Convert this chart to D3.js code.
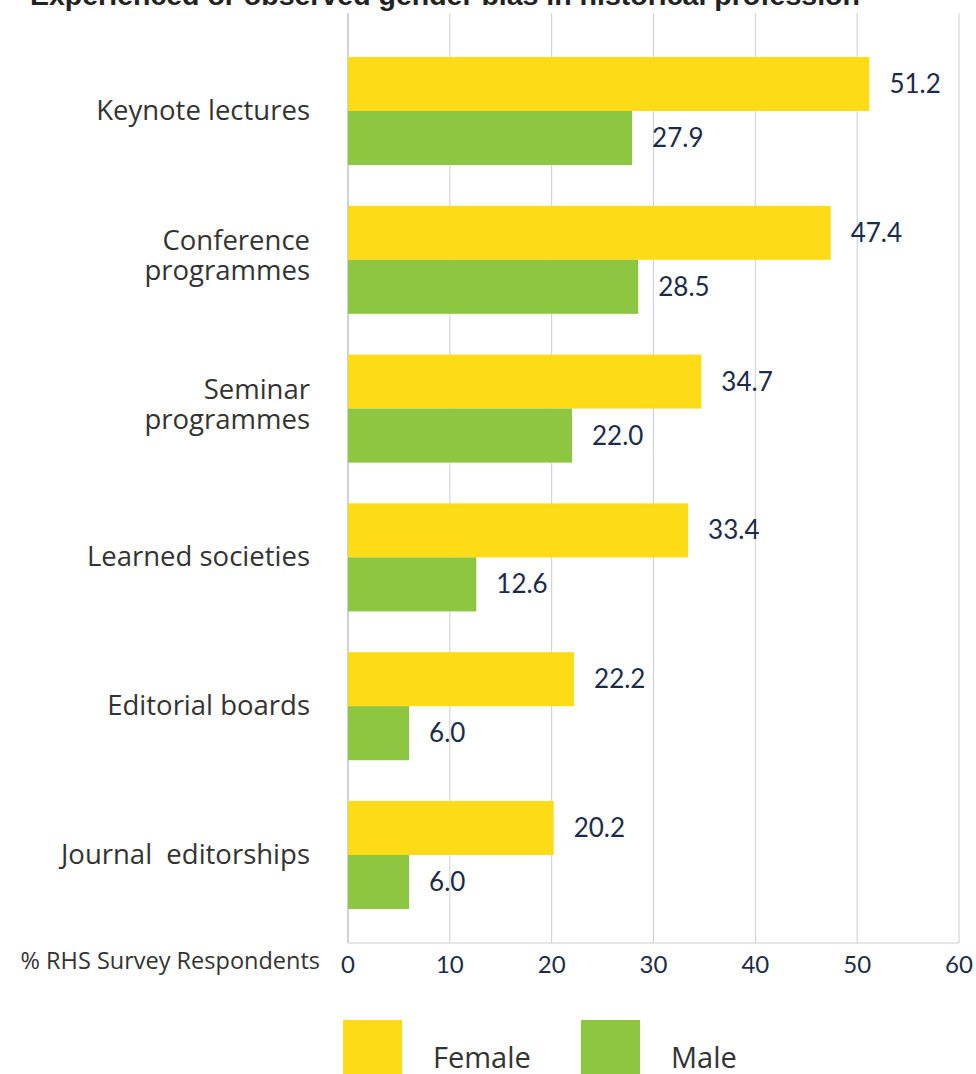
<!DOCTYPE html>
<html>
<head>
<meta charset="utf-8">
<script src="https://cdn.jsdelivr.net/npm/d3@7"></script>
<style>
  body { margin: 0; background: #fff; }
  svg { display: block; }
</style>
</head>
<body>
<div id="chart"></div>
<script>
var categories = ["Keynote lectures", "Conference\nprogrammes", "Seminar\nprogrammes", "Learned societies", "Editorial boards", "Journal  editorships"];
var series = ["Female", "Male"];
var female = [51.2, 47.4, 34.7, 33.4, 22.2, 20.2];
var male = [27.9, 28.5, 22.0, 12.6, 6.0, 6.0];
var ticks = [0, 10, 20, 30, 40, 50, 60];
var colors = ["#fddc17", "#8dc641"];

var W = 976, H = 1074;
var svg = d3.select("#chart").append("svg")
    .attr("width", W)
    .attr("height", H);

var x = d3.scaleLinear().domain([0, 60]).range([348, 959]);
var y = d3.scaleBand().domain(categories).range([36.6, 929.4]).paddingInner(0.274).paddingOuter(0.137);
var ySub = d3.scaleBand().domain(series).range([0, y.bandwidth()]);

var fontTxt = "'Open Sans', Lato, sans-serif";
var fontNum = "Lato, 'Open Sans', sans-serif";

// titre (coupé en haut)
svg.append("text")
    .attr("x", 30)
    .attr("y", 5)
    .text("Experienced or observed gender bias in historical profession")
    .attr("font-family", "'Liberation Sans', Arial, sans-serif")
    .attr("font-weight", "bold")
    .attr("font-size", "28.5px")
    .attr("fill", "#222");

// grille
svg.append("g").selectAll("line")
    .data(ticks)
    .join("line")
    .attr("x1", d => x(d))
    .attr("x2", d => x(d))
    .attr("y1", 13)
    .attr("y2", 943)
    .attr("stroke", d => d == 0 ? "#9aa3b5" : "#c9cdd6")
    .attr("stroke-width", 1);

svg.append("line")
    .attr("x1", x(0))
    .attr("x2", x(60))
    .attr("y1", 943)
    .attr("y2", 943)
    .attr("stroke", "#c9cdd6");

// barres
var rows = categories.map((c, i) => ({ cat: c, vals: [female[i], male[i]] }));
var grp = svg.append("g").selectAll("g")
    .data(rows)
    .join("g")
    .attr("transform", d => "translate(0," + y(d.cat) + ")");

grp.selectAll("rect")
    .data(d => d.vals.map((v, k) => ({ s: series[k], v: v, k: k })))
    .join("rect")
    .attr("x", x(0))
    .attr("y", d => ySub(d.s))
    .attr("width", d => x(d.v) - x(0))
    .attr("height", ySub.bandwidth())
    .attr("fill", d => colors[d.k]);

grp.selectAll("text.val")
    .data(d => d.vals.map((v, k) => ({ s: series[k], v: v, k: k })))
    .join("text")
    .attr("class", "val")
    .attr("x", d => x(d.v) + 20)
    .attr("y", d => ySub(d.s) + ySub.bandwidth() / 2 + 9)
    .text(d => d.v.toFixed(1))
    .attr("font-family", fontNum)
    .attr("font-size", "26px")
    .attr("fill", "#1c2b4a");

// libellés des catégories
categories.forEach(function (c) {
    var lines = c.split("\n");
    var cy = y(c) + y.bandwidth() / 2;
    var t = svg.append("text")
        .attr("text-anchor", "end")
        .style("white-space", "pre")
        .attr("font-family", fontTxt)
        .attr("font-size", "27.5px")
        .attr("fill", "#333");
    lines.forEach(function (l, i) {
        t.append("tspan")
            .attr("x", 310)
            .attr("y", cy + 9 + (i - (lines.length - 1) / 2) * 30 - (lines.length > 1 ? 4 : 0))
            .text(l);
    });
});

// axe x
svg.append("g").selectAll("text")
    .data(ticks)
    .join("text")
    .attr("x", d => x(d))
    .attr("y", 973)
    .attr("text-anchor", "middle")
    .text(d => d)
    .attr("font-family", fontNum)
    .attr("font-size", "24px")
    .attr("fill", "#1c2b4a");

svg.append("text")
    .attr("x", 320)
    .attr("y", 969)
    .attr("text-anchor", "end")
    .text("% RHS Survey Respondents")
    .attr("font-family", fontTxt)
    .attr("font-size", "23.5px")
    .attr("fill", "#333");

// légende
var legX = [343, 581];
series.forEach(function (s, i) {
    svg.append("rect")
        .attr("x", legX[i])
        .attr("y", 1020)
        .attr("width", 59)
        .attr("height", 56)
        .attr("fill", colors[i]);
    svg.append("text")
        .attr("x", legX[i] + 90)
        .attr("y", 1068)
        .text(s)
        .attr("font-family", fontTxt)
        .attr("font-size", "29px")
        .attr("fill", "#333");
});
</script>
</body>
</html>
